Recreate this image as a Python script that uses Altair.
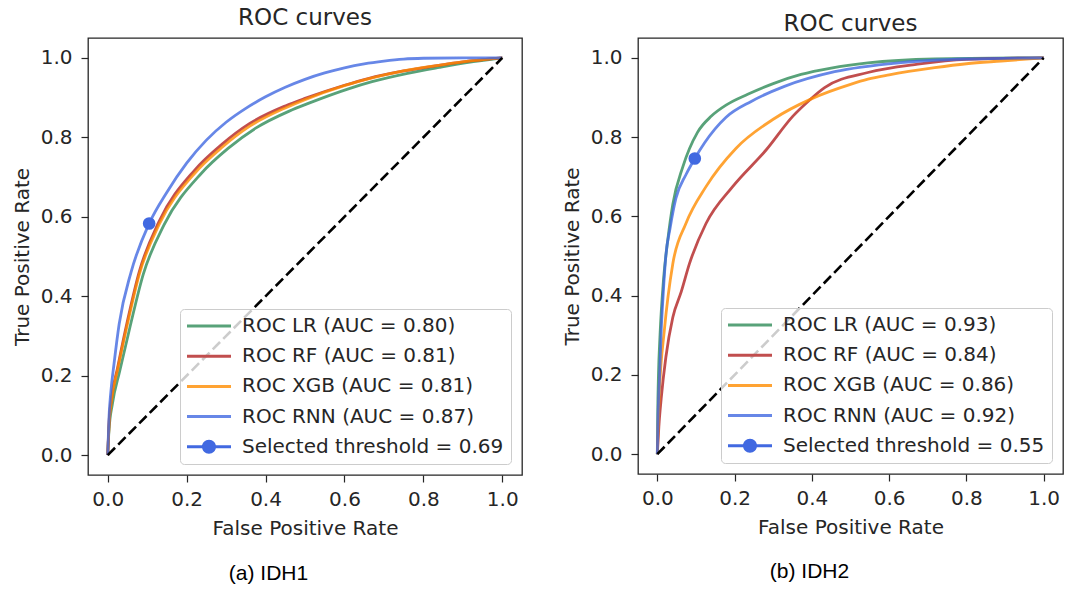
import altair as alt
import pandas as pd

# ---------------- IDH1 ROC curves ----------------
IDH1_LR_FPR = [0, 0.003, 0.012, 0.03, 0.057, 0.09, 0.143, 0.237, 0.305, 0.375, 0.46, 0.51, 0.61, 0.67, 0.76, 0.84, 0.91, 1.0]
IDH1_LR_TPR = [0, 0.06, 0.13, 0.21, 0.325, 0.455, 0.58, 0.709, 0.772, 0.823, 0.866, 0.886, 0.922, 0.94, 0.961, 0.976, 0.988, 1.0]
IDH1_RF_FPR = [0, 0.003, 0.01, 0.025, 0.05, 0.08, 0.13, 0.22, 0.29, 0.36, 0.45, 0.5, 0.6, 0.66, 0.75, 0.83, 0.9, 1.0]
IDH1_RF_TPR = [0, 0.075, 0.145, 0.22, 0.338, 0.462, 0.588, 0.717, 0.783, 0.835, 0.879, 0.898, 0.931, 0.948, 0.967, 0.98, 0.99, 1.0]
IDH1_XGB_FPR = [0, 0.003, 0.01, 0.025, 0.05, 0.08, 0.13, 0.22, 0.29, 0.36, 0.45, 0.5, 0.6, 0.66, 0.75, 0.83, 0.9, 1.0]
IDH1_XGB_TPR = [0, 0.07, 0.14, 0.215, 0.33, 0.455, 0.58, 0.709, 0.775, 0.828, 0.874, 0.895, 0.93, 0.947, 0.967, 0.98, 0.99, 1.0]
IDH1_RNN_FPR = [0, 0.003, 0.008, 0.016, 0.029, 0.059, 0.105, 0.15, 0.2, 0.25, 0.3, 0.35, 0.4, 0.45, 0.5, 0.55, 0.6, 0.65, 0.7, 0.75, 0.8, 0.9, 1.0]
IDH1_RNN_TPR = [0, 0.09, 0.16, 0.23, 0.33, 0.46, 0.583, 0.662, 0.735, 0.793, 0.838, 0.873, 0.902, 0.926, 0.946, 0.962, 0.975, 0.985, 0.992, 0.997, 0.999, 1.0, 1.0]
IDH1_SELECTED = [0.105, 0.583]
IDH1_LABELS = [
    "ROC LR (AUC = 0.80)",
    "ROC RF (AUC = 0.81)",
    "ROC XGB (AUC = 0.81)",
    "ROC RNN (AUC = 0.87)",
    "Selected threshold = 0.69",
]

# ---------------- IDH2 ROC curves ----------------
IDH2_LR_FPR = [0, 0.001, 0.003, 0.007, 0.016, 0.027, 0.04, 0.066, 0.104, 0.14, 0.18, 0.234, 0.3, 0.372, 0.45, 0.545, 0.718, 1.0]
IDH2_LR_TPR = [0, 0.10, 0.20, 0.30, 0.44, 0.54, 0.63, 0.725, 0.812, 0.853, 0.882, 0.908, 0.935, 0.958, 0.974, 0.987, 0.997, 1.0]
IDH2_RF_FPR = [0, 0.004, 0.01, 0.022, 0.04, 0.062, 0.083, 0.126, 0.195, 0.282, 0.351, 0.39, 0.433, 0.545, 0.674, 0.8, 1.0]
IDH2_RF_TPR = [0, 0.07, 0.14, 0.244, 0.345, 0.41, 0.48, 0.582, 0.675, 0.768, 0.853, 0.89, 0.925, 0.963, 0.984, 0.996, 1.0]
IDH2_XGB_FPR = [0, 0.003, 0.006, 0.018, 0.04, 0.074, 0.126, 0.204, 0.3, 0.4, 0.5, 0.545, 0.6, 0.718, 0.8, 0.89, 1.0]
IDH2_XGB_TPR = [0, 0.10, 0.17, 0.311, 0.48, 0.582, 0.675, 0.772, 0.845, 0.897, 0.933, 0.946, 0.957, 0.975, 0.985, 0.992, 1.0]
IDH2_RNN_FPR = [0, 0.002, 0.006, 0.01, 0.015, 0.022, 0.033, 0.048, 0.074, 0.097, 0.122, 0.178, 0.243, 0.329, 0.459, 0.631, 0.8, 1.0]
IDH2_RNN_TPR = [0, 0.10, 0.20, 0.31, 0.40, 0.50, 0.57, 0.645, 0.705, 0.746, 0.785, 0.85, 0.89, 0.928, 0.965, 0.988, 0.997, 1.0]
IDH2_SELECTED = [0.097, 0.746]
IDH2_LABELS = [
    "ROC LR (AUC = 0.93)",
    "ROC RF (AUC = 0.84)",
    "ROC XGB (AUC = 0.86)",
    "ROC RNN (AUC = 0.92)",
    "Selected threshold = 0.55",
]

CHANCE = [0.0, 1.0]
TICKS = [0.0, 0.2, 0.4, 0.6, 0.8, 1.0]

# seagreen, firebrick, darkorange, royalblue
LINE_COLORS = ["#2e8b57", "#b22222", "#ff8c00", "#4169e1"]
# the same colours at 80 % opacity on white, plus the solid marker colour
KEY_COLORS = ["#58a279", "#c14e4e", "#ffa333", "#6787e7", "#4169e1"]

# legend glyphs: a short stroke, and a stroke with a dot on it
LINE_PATH = "M-1,-0.15L3.4,-0.15L3.4,0.15L-1,0.15Z"
DOT_PATH = LINE_PATH + "M1.9,0A0.7,0.7 0 1,1 0.5,0A0.7,0.7 0 1,1 1.9,0Z"

FONT = "DejaVu Sans"
INK = "#262626"
FS = 20


def xy():
    x = alt.X(
        "fpr:Q",
        scale=alt.Scale(domain=[-0.05, 1.05], nice=False, zero=False),
        axis=alt.Axis(title="False Positive Rate", values=TICKS, format=".1f",
                      labelPadding=7, titlePadding=9),
    )
    y = alt.Y(
        "tpr:Q",
        scale=alt.Scale(domain=[-0.05, 1.05], nice=False, zero=False),
        axis=alt.Axis(title="True Positive Rate", values=TICKS, format=".1f",
                      labelPadding=9, titlePadding=8),
    )
    return x, y


def panel(curves, labels, selected, width, height, title_offset, caption, cap_x, cap_y):
    x, y = xy()
    layers = []
    for (fpr, tpr), color in zip(curves, LINE_COLORS):
        df = pd.DataFrame({"fpr": fpr, "tpr": tpr, "step": list(range(len(fpr)))})
        layers.append(
            alt.Chart(df)
            .mark_line(color=color, opacity=0.8, strokeWidth=2.8, interpolate="monotone")
            .encode(x=x, y=y, order="step:Q")
        )

    chance = (
        alt.Chart(pd.DataFrame({"fpr": CHANCE, "tpr": CHANCE}))
        .mark_line(color="black", strokeWidth=2.6, strokeDash=[10.4, 4.5])
        .encode(x=x, y=y)
    )

    point_df = pd.DataFrame({"fpr": [selected[0]], "tpr": [selected[1]], "label": [labels[-1]]})
    dot = (
        alt.Chart(point_df)
        .mark_circle(size=160, color="#4169e1", opacity=1)
        .encode(x=x, y=y)
    )

    # invisible carrier for the legend entries
    key = (
        alt.Chart(point_df)
        .mark_point(filled=True, opacity=0, size=400)
        .encode(
            x=x,
            y=y,
            fill=alt.Fill("label:N", scale=alt.Scale(domain=labels, range=KEY_COLORS),
                          legend=alt.Legend(title=None)),
            shape=alt.Shape("label:N", scale=alt.Scale(domain=labels, range=[LINE_PATH] * 4 + [DOT_PATH]),
                            legend=alt.Legend(title=None)),
        )
    )

    cap = (
        alt.Chart(pd.DataFrame({"caption": [caption]}))
        .mark_text(font="Liberation Sans", fontSize=21, color="black", align="center", baseline="alphabetic")
        .encode(text="caption:N", x=alt.value(cap_x), y=alt.value(cap_y))
    )

    return alt.layer(*layers, chance, dot, key, cap).properties(
        width=width,
        height=height,
        title=alt.TitleParams(
            "ROC curves", font=FONT, fontSize=23, fontWeight="normal", color=INK,
            offset=title_offset, baseline="alphabetic", anchor="middle",
        ),
    )


left = panel(
    [(IDH1_LR_FPR, IDH1_LR_TPR), (IDH1_RF_FPR, IDH1_RF_TPR),
     (IDH1_XGB_FPR, IDH1_XGB_TPR), (IDH1_RNN_FPR, IDH1_RNN_TPR)],
    IDH1_LABELS, IDH1_SELECTED, 434, 437, -10, "(a) IDH1", 180.5, 541.5,
)
right = panel(
    [(IDH2_LR_FPR, IDH2_LR_TPR), (IDH2_RF_FPR, IDH2_RF_TPR),
     (IDH2_XGB_FPR, IDH2_XGB_TPR), (IDH2_RNN_FPR, IDH2_RNN_TPR)],
    IDH2_LABELS, IDH2_SELECTED, 425, 436, -16, "(b) IDH2", 171.5, 540,
)

chart = (
    alt.hconcat(left, right, spacing=38)
    .resolve_scale(fill="independent", shape="independent")
    .resolve_legend(fill="independent", shape="independent")
    .configure(padding={"left": 11, "top": 6, "right": 0, "bottom": 0}, background="white")
    .configure_view(stroke=INK, strokeWidth=1.3)
    .configure_axis(
        domain=False, grid=False,
        labelFont=FONT, labelFontSize=FS, labelColor=INK,
        tickColor=INK, tickSize=7, tickWidth=1.2,
        titleFont=FONT, titleFontSize=FS, titleFontWeight="normal", titleColor=INK,
    )
    .configure_legend(
        orient="bottom-right", offset=11, padding=7,
        fillColor="rgba(255,255,255,0.8)", strokeColor="#cccccc", cornerRadius=4,
        labelFont=FONT, labelFontSize=FS, labelColor=INK, labelOffset=35, labelLimit=400,
        rowPadding=10.2, symbolSize=400, symbolStrokeWidth=0, symbolOpacity=1,
        zindex=1,
    )
)

chart.save("out.html", embed_options={"renderer": "svg", "actions": False})
